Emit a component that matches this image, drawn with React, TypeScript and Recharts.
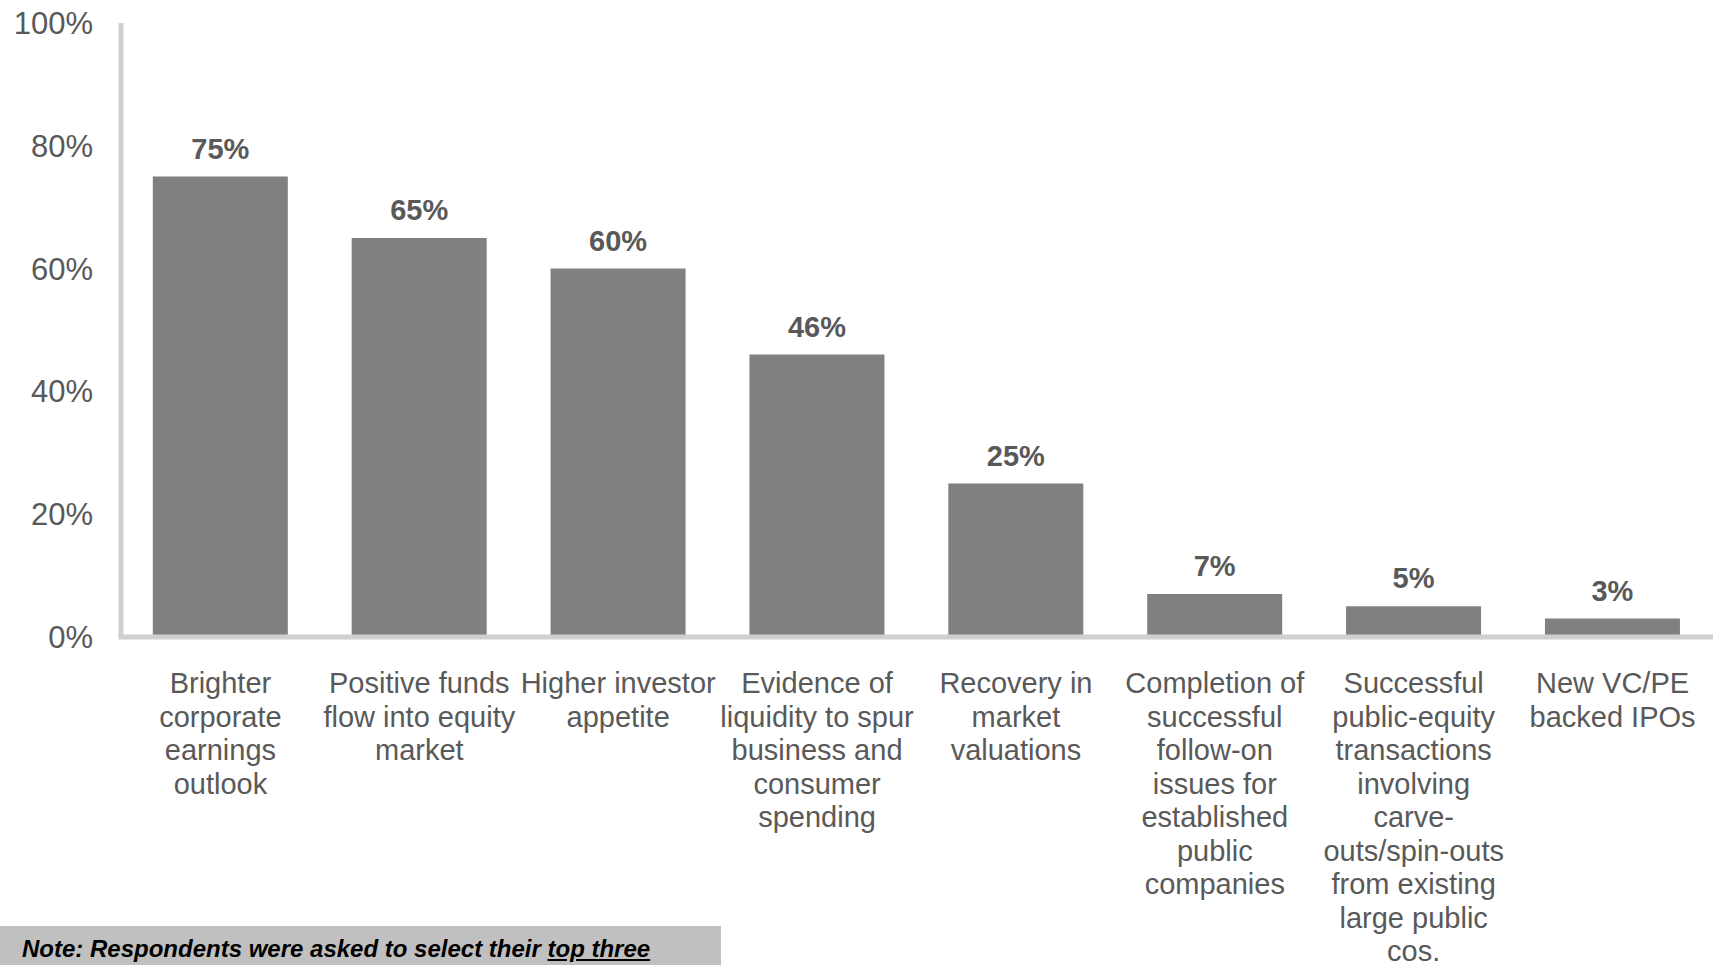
import React from 'react';
import { BarChart, Bar, XAxis, YAxis, LabelList } from 'recharts';

const categories = [
  'Brighter corporate earnings outlook',
  'Positive funds flow into equity market',
  'Higher investor appetite',
  'Evidence of liquidity to spur business and consumer spending',
  'Recovery in market valuations',
  'Completion of successful follow-on issues for established public companies',
  'Successful public-equity transactions involving carve-outs/spin-outs from existing large public cos.',
  'New VC/PE backed IPOs',
];

const shares = [75, 65, 60, 46, 25, 7, 5, 3];

const tickLines = [
  ['Brighter', 'corporate', 'earnings', 'outlook'],
  ['Positive funds', 'flow into equity', 'market'],
  ['Higher investor', 'appetite'],
  ['Evidence of', 'liquidity to spur', 'business and', 'consumer', 'spending'],
  ['Recovery in', 'market', 'valuations'],
  ['Completion of', 'successful', 'follow-on', 'issues for', 'established', 'public', 'companies'],
  ['Successful', 'public-equity', 'transactions', 'involving', 'carve-', 'outs/spin-outs', 'from existing', 'large public', 'cos.'],
  ['New VC/PE', 'backed IPOs'],
];

const yTicks = [0, 20, 40, 60, 80, 100];

const data = categories.map((name, i) => ({ name, value: shares[i] }));

const FONT = '"Liberation Sans", Arial, sans-serif';
const TEXT = '#595959';

const CategoryTick = (props: any) => {
  const { x, y, payload } = props;
  const idx = categories.indexOf(payload.value);
  const lines = tickLines[idx] ?? [payload.value];
  return (
    <text x={x} y={y} textAnchor="middle" fill={TEXT} fontSize={29} fontFamily={FONT}>
      {lines.map((line, i) => (
        <tspan key={i} x={x} dy={i === 0 ? 56 : 33.5}>
          {line}
        </tspan>
      ))}
    </text>
  );
};

export default function App() {
  return (
    <div style={{ position: 'absolute', left: 0, top: 0, width: 1713, height: 965, background: '#fff', overflow: 'hidden' }}>
      <BarChart
        width={1713}
        height={965}
        data={data}
        margin={{ top: 23, right: 1, left: 0, bottom: 0 }}
        barCategoryGap="16%"
      >
        <XAxis
          dataKey="name"
          height={328}
          interval={0}
          tickLine={false}
          tickSize={0}
          tickMargin={0}
          axisLine={{ stroke: '#d0d0d0', strokeWidth: 5, strokeLinecap: 'square' }}
          tick={<CategoryTick />}
        />
        <YAxis
          width={121}
          domain={[0, 100]}
          ticks={yTicks}
          tickFormatter={(v: number) => `${v}%`}
          tickLine={false}
          tickSize={0}
          tickMargin={28}
          axisLine={{ stroke: '#d0d0d0', strokeWidth: 5 }}
          tick={{ fill: TEXT, fontSize: 31, fontFamily: FONT }}
        />
        <Bar dataKey="value" fill="#808080" isAnimationActive={false}>
          <LabelList
            dataKey="value"
            position="top"
            offset={18}
            formatter={(v: any) => `${v}%`}
            style={{ fill: TEXT, fontSize: 29, fontWeight: 'bold', fontFamily: FONT }}
          />
        </Bar>
      </BarChart>
      <div
        style={{
          position: 'absolute',
          left: 0,
          top: 926,
          width: 721,
          height: 39,
          background: '#c0c0c0',
          fontFamily: FONT,
          fontSize: 24,
          fontWeight: 'bold',
          fontStyle: 'italic',
          color: '#000',
          lineHeight: '46px',
          paddingLeft: 22,
          boxSizing: 'border-box',
          whiteSpace: 'nowrap',
        }}
      >
        Note: Respondents were asked to select their <span style={{ textDecoration: 'underline' }}>top three</span>
      </div>
    </div>
  );
}
